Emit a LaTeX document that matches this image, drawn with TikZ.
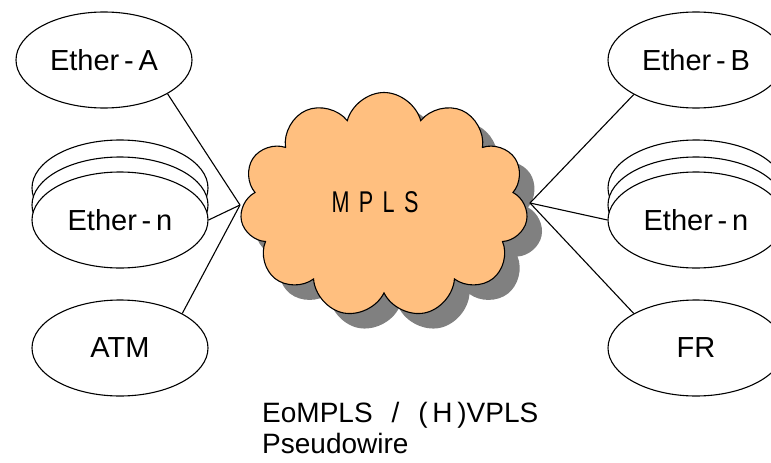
\documentclass[tikz,border=0pt]{standalone}
\usepackage{fontspec}
\setmainfont{Liberation Sans}
\usepackage{graphicx}
\usetikzlibrary{shapes,shadows}
\definecolor{cloudorange}{RGB}{255,191,127}
\definecolor{shadowgray}{RGB}{128,128,128}

\begin{document}
\begin{tikzpicture}[x=1pt,y=-1pt,
  net/.style={ellipse,draw,line width=1.1pt,fill=white,minimum width=176pt,minimum height=96pt,inner sep=0pt,font=\fontsize{29}{29}\selectfont},
  wire/.style={line width=1.1pt},
  caption/.style={anchor=base west,inner sep=0pt,font=\fontsize{28}{28}\selectfont}]
\useasboundingbox (0,0) rectangle (771,463);
\node [cloud,cloud puffs=11,cloud puff arc=150,aspect=1.3,draw,line width=1.1pt,fill=cloudorange,minimum width=288pt,minimum height=225pt,inner sep=0pt,drop shadow={shadow xshift=15pt,shadow yshift=-15pt,fill=shadowgray,opacity=1}] (mpls) at (384,205) {};
\node (mplsTxt) at (375,202) {\fontsize{30}{30}\selectfont\scalebox{0.72}[1]{M\hspace{13pt}P\hspace{13pt}L\hspace{13pt}S}};
\coordinate (hubL) at (240,205);
\coordinate (hubR) at (530,203);
\node [net] (ethA) at (104,60) {\raisebox{-2pt}{Ether\,-\,A}};
\node [net] (ethnLc) at (120,188) {};
\node [net] (ethnLb) at (120,205) {};
\node [net] (ethnL) at (120,220) {\raisebox{-2pt}{Ether\,-\,n}};
\node [net] (atm) at (120,348) {\raisebox{-2pt}{ATM}};
\node [net] (ethB) at (696,60) {\raisebox{-2pt}{Ether\,-\,B}};
\node [net] (ethnRc) at (696,188) {};
\node [net] (ethnRb) at (696,205) {};
\node [net] (ethnR) at (696,220) {\raisebox{-2pt}{Ether\,-\,n}};
\node [net] (fr) at (696,348) {\raisebox{-2pt}{FR}};
\draw [wire] (ethA.-28) -- (hubL);
\draw [wire] (ethnL.east) -- (hubL);
\draw [wire] (atm.29) -- (hubL);
\draw [wire] (ethB.-151) -- (hubR);
\draw [wire] (ethnR.west) -- (hubR);
\draw [wire] (fr.151) -- (hubR);
\node [caption] (pwTop) at (262,422) {EoMPLS\hspace{19pt}/\hspace{19pt}(\,H\,)VPLS};
\node [caption] (pwBottom) at (262,453) {Pseudowire};
\end{tikzpicture}
\end{document}
